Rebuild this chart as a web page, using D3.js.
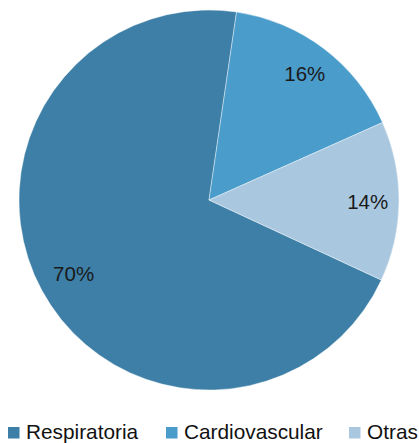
<!DOCTYPE html>
<html><head><meta charset="utf-8">
<script src="https://cdn.jsdelivr.net/npm/d3@7"></script>
<style>body{margin:0;background:#fff}svg{display:block}</style>
</head><body>
<script>
const categories = ["Respiratoria", "Cardiovascular", "Otras"];
const values = [70.4, 16.0, 13.6];
const labels = ["70%", "16%", "14%"];
const colors = ["#3d7fa6", "#4a9ccb", "#a9c8e0"];

const W = 419, H = 443, cx = 209, cy = 200, R = 190;
const svg = d3.select("body").append("svg").attr("width", W).attr("height", H);
const start = 114.9 * Math.PI / 180;
const pie = d3.pie().sort(null).value(d => d).startAngle(start).endAngle(start + 2 * Math.PI);
const arcs = pie(values);
const arc = d3.arc().innerRadius(0).outerRadius(R);
const labelR = [0.81, 0.835, 0.835];
const g = svg.append("g").attr("transform", `translate(${cx},${cy})`);
g.selectAll("path").data(arcs).enter().append("path")
  .attr("d", arc).attr("fill", (d, i) => colors[i])
  .attr("stroke", "#ffffff").attr("stroke-width", 0.4);
g.selectAll("text").data(arcs).enter().append("text")
  .attr("transform", (d, i) => {
    const la = d3.arc().innerRadius(R * labelR[i]).outerRadius(R * labelR[i]);
    return `translate(${la.centroid(d)})`;
  })
  .attr("text-anchor", "middle").attr("dy", "0.36em")
  .attr("font-family", "Liberation Sans, Arial, sans-serif")
  .attr("font-size", 20.5).attr("fill", "#1a1a1a")
  .text((d, i) => labels[i]);

const legX = [8, 166, 349];
const lg = svg.append("g");
categories.forEach((c, i) => {
  lg.append("rect").attr("x", legX[i]).attr("y", 427).attr("width", 11.5).attr("height", 11.5).attr("fill", colors[i]);
  lg.append("text").attr("x", legX[i] + 18).attr("y", 438.5)
    .attr("font-family", "Liberation Sans, Arial, sans-serif")
    .attr("font-size", 20.8).attr("fill", "#111").text(c);
});
</script>
</body></html>
